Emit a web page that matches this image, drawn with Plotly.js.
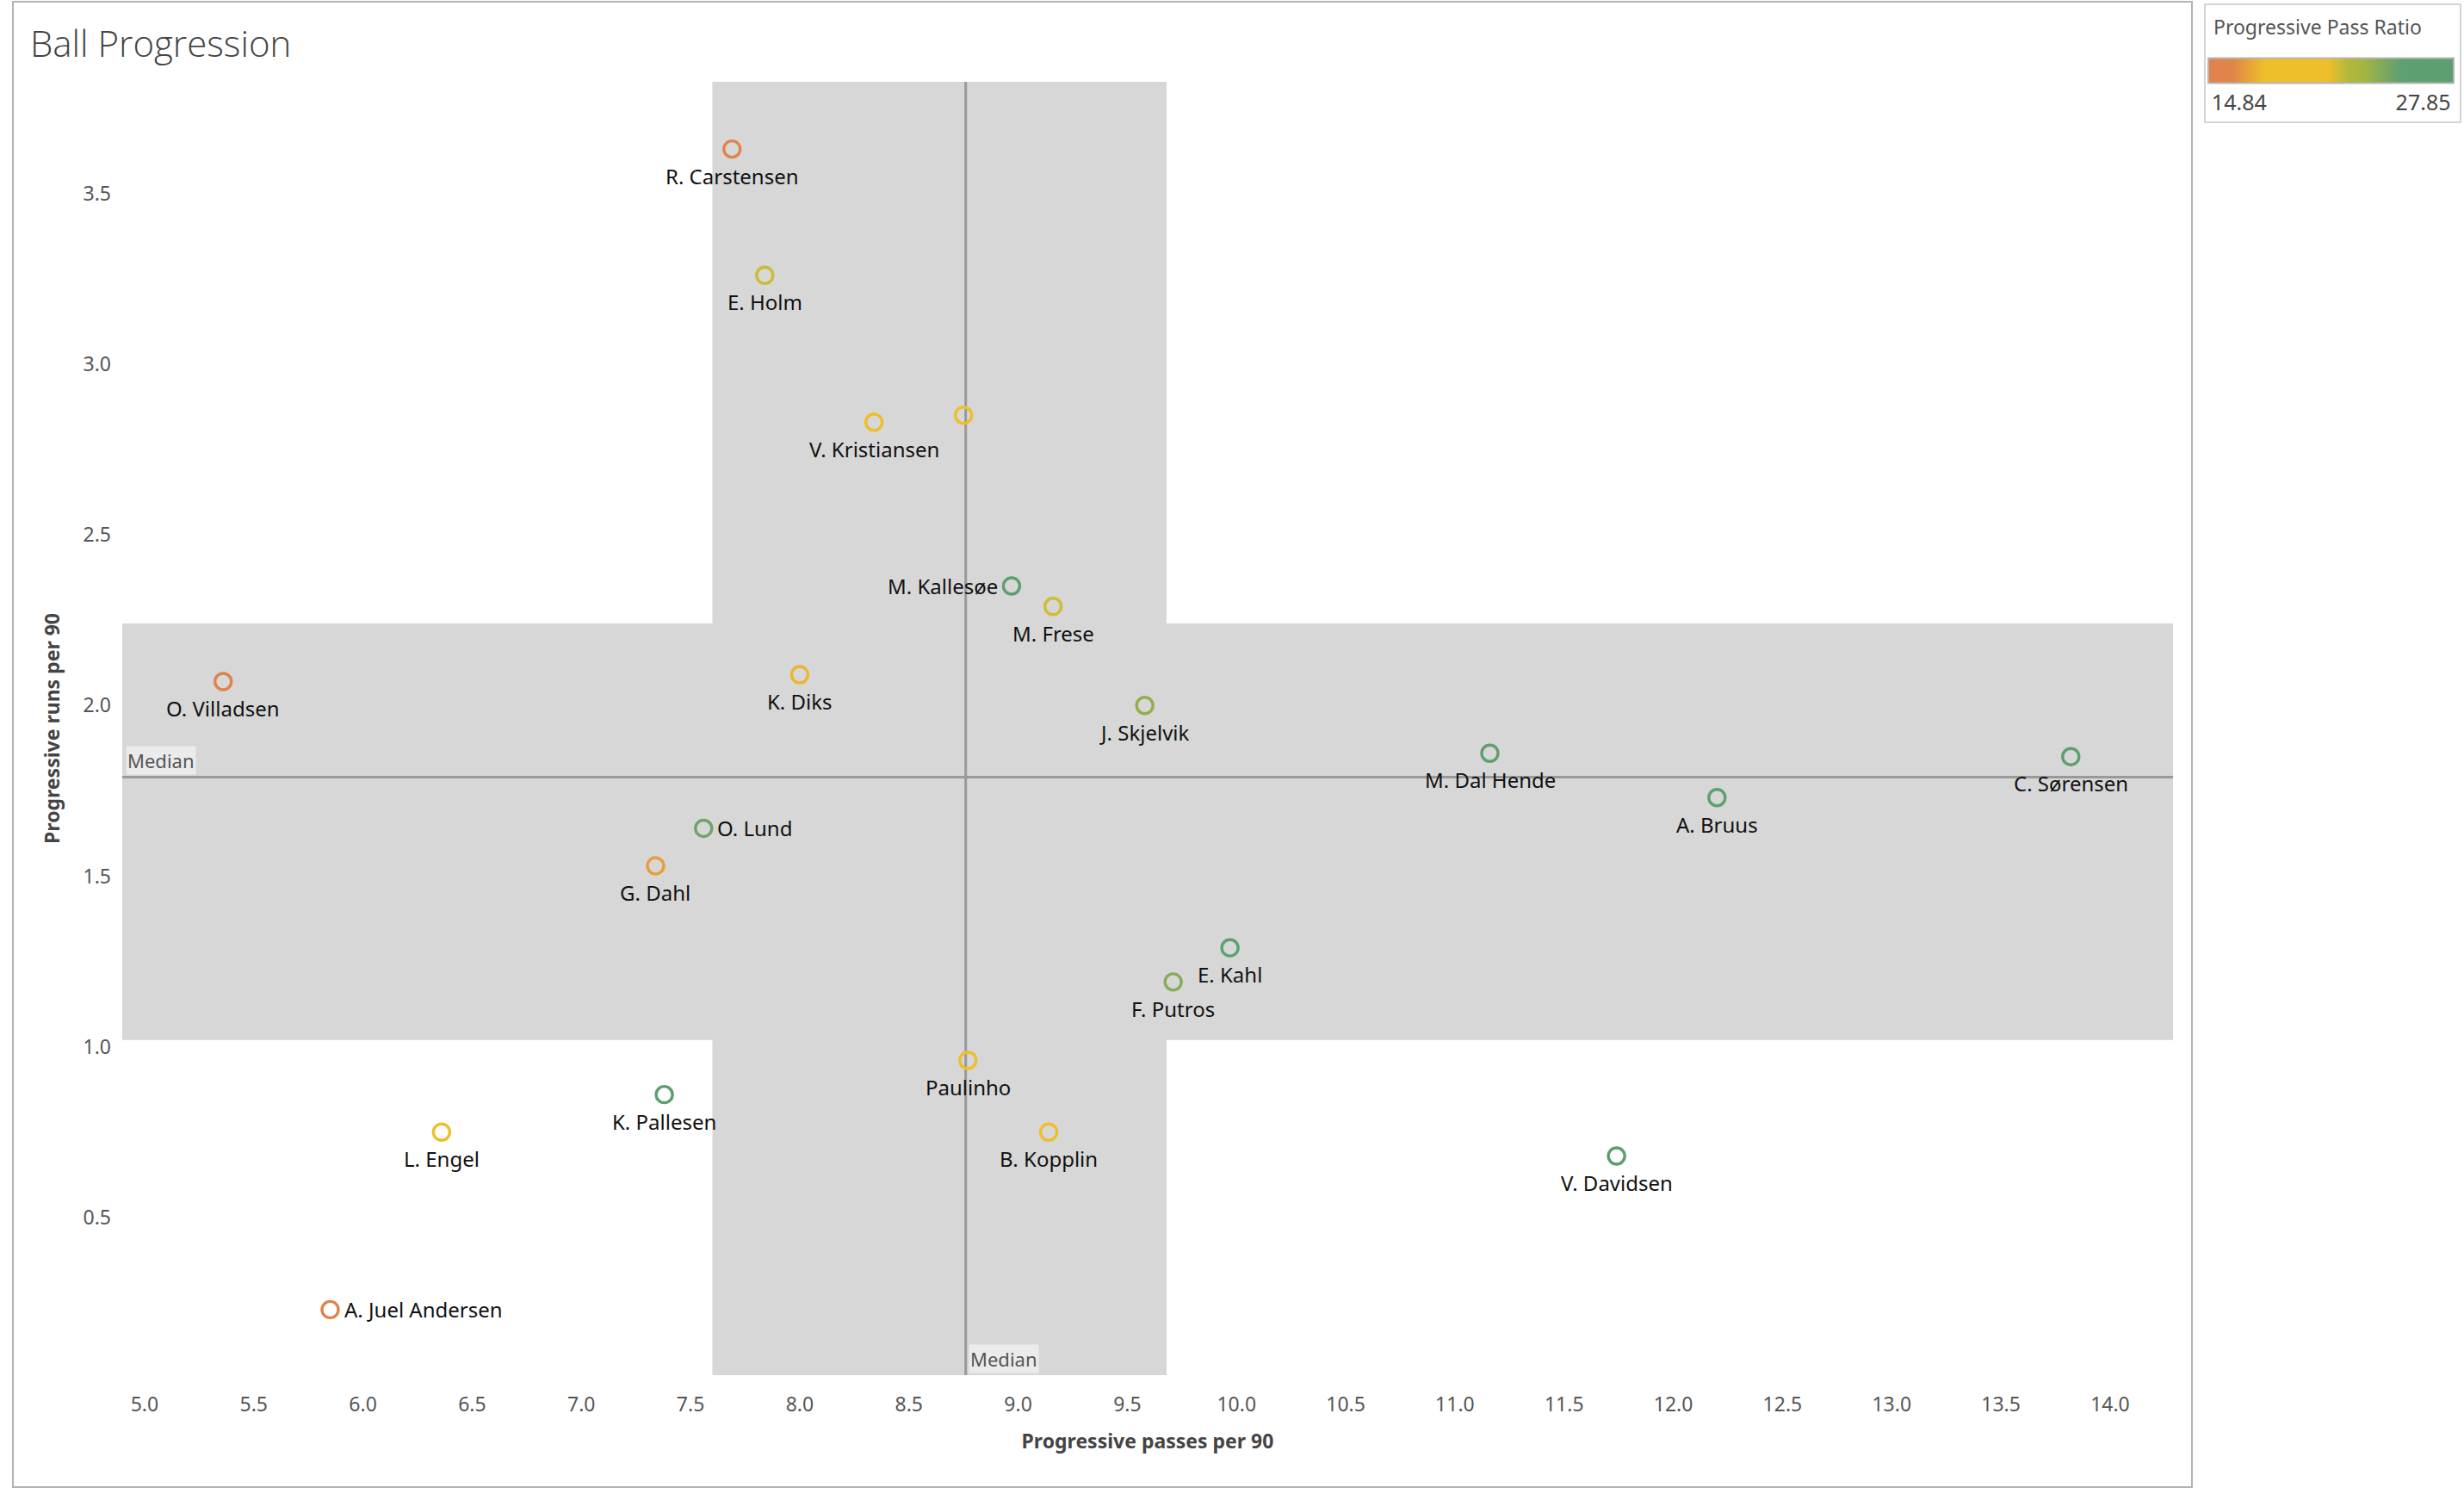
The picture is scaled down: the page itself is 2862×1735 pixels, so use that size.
<!DOCTYPE html>
<html>
<head>
<meta charset="utf-8">
<script src="https://cdn.plot.ly/plotly-3.0.1.min.js"></script>
<style>
  html, body { margin: 0; padding: 0; background: #fff; }
  #wrap { position: relative; width: 2862px; height: 1735px; }
  #chart { position: absolute; left: 0; top: 0; width: 2862px; height: 1735px; }
  .frame { position: absolute; pointer-events: none; box-sizing: border-box; }
</style>
</head>
<body>
<div id="wrap">
  <div id="chart"></div>
  <div class="frame" style="left:14px; top:1px; width:2533px; height:1727px; border:2px solid #b3b3b3;"></div>
  <div class="frame" style="left:2560px; top:4px; width:299px; height:139px; border:2px solid #d4d4d4;"></div>
</div>
<script>
// ---- data ----
const players = [
  'R. Carstensen', 'E. Holm', 'V. Kristiansen', '', 'M. Kallesøe', 'M. Frese',
  'O. Villadsen', 'K. Diks', 'J. Skjelvik', 'M. Dal Hende', 'C. Sørensen',
  'A. Bruus', 'O. Lund', 'G. Dahl', 'E. Kahl', 'F. Putros', 'Paulinho',
  'K. Pallesen', 'L. Engel', 'B. Kopplin', 'V. Davidsen', 'A. Juel Andersen'
];
const progPasses = [
  7.69, 7.84, 8.34, 8.75, 8.97, 9.16,
  5.36, 8.00, 9.58, 11.16, 13.82,
  12.20, 7.56, 7.34, 9.97, 9.71, 8.77,
  7.38, 6.36, 9.14, 11.74, 5.85
];
const progRuns = [
  3.63, 3.26, 2.83, 2.85, 2.35, 2.29,
  2.07, 2.09, 2.00, 1.86, 1.85,
  1.73, 1.64, 1.53, 1.29, 1.19, 0.96,
  0.86, 0.75, 0.75, 0.68, 0.23
];
const passRatio = [
  15.6, 21.8, 19.6, 20.0, 26.6, 21.7,
  15.1, 17.6, 23.6, 27.0, 26.8,
  26.2, 24.6, 16.9, 26.2, 23.9, 19.6,
  26.5, 18.2, 21.0, 27.85, 14.84
];
const ratioRange = [14.84, 27.85];
const medianX = 8.76;
const medianY = 1.79;
const bandX = [7.60, 9.68];   // shaded reference band on passes
const bandY = [1.02, 2.24];   // shaded reference band on runs
const xTickVals = [5.0, 5.5, 6.0, 6.5, 7.0, 7.5, 8.0, 8.5, 9.0, 9.5, 10.0, 10.5, 11.0, 11.5, 12.0, 12.5, 13.0, 13.5, 14.0];
const yTickVals = [0.5, 1.0, 1.5, 2.0, 2.5, 3.0, 3.5];

// label placement (style, not data)
const labelSide = [
  'below', 'below', 'below', 'none', 'left', 'below',
  'below', 'below', 'below', 'below', 'below',
  'below', 'right', 'below', 'below', 'below', 'below',
  'below', 'below', 'below', 'below', 'right'
];

const FONT = 'Noto Sans, Open Sans, sans-serif';
const colorscale = [
  [0.00, '#e0834a'], [0.10, '#e0854a'],
  [0.23, '#eebf2a'], [0.49, '#eebf2a'],
  [0.57, '#b3b83a'], [0.63, '#a6b542'],
  [0.78, '#5fa070'], [1.00, '#5d9f6e']
];

const span = ratioRange[1] - ratioRange[0];
const trace = {
  type: 'scatter',
  mode: 'markers',
  x: progPasses,
  y: progRuns,
  text: players,
  hoverinfo: 'text',
  marker: {
    symbol: 'circle-open',
    size: 19,
    line: { width: 3.4 },
    color: passRatio,
    cmin: ratioRange[0],
    cmax: ratioRange[1],
    colorscale: colorscale,
    showscale: true,
    colorbar: {
      orientation: 'h',
      x: (2712 - 142) / 2386,
      xanchor: 'center',
      y: (1597 - 100) / 1502,
      yanchor: 'middle',
      lenmode: 'pixels',
      len: 285,
      thickness: 29,
      outlinecolor: '#b5b5b5',
      outlinewidth: 2,
      ticks: '',
      tickvals: [ratioRange[0] + span * 0.125, ratioRange[1] - span * 0.125],
      ticktext: [ratioRange[0].toFixed(2), ratioRange[1].toFixed(2)],
      tickfont: { family: FONT, size: 25, color: '#444' },
      xpad: 0, ypad: 0
    }
  }
};

const annotations = [];
players.forEach((p, i) => {
  const side = labelSide[i];
  if (side === 'none' || !p) return;
  const a = {
    x: progPasses[i], y: progRuns[i], xref: 'x', yref: 'y',
    text: p, showarrow: false,
    font: { family: FONT, size: 24, color: '#111' }
  };
  if (side === 'below') { a.xanchor = 'center'; a.yanchor = 'middle'; a.yshift = -31; }
  else if (side === 'left') { a.xanchor = 'right'; a.yanchor = 'middle'; a.xshift = -14; }
  else if (side === 'right') { a.xanchor = 'left'; a.yanchor = 'middle'; a.xshift = 14; }
  annotations.push(a);
});
annotations.push({
  x: 0, y: medianY, xref: 'paper', yref: 'y', xanchor: 'left', yanchor: 'bottom',
  text: 'Median', showarrow: false, bgcolor: '#ebebeb', borderpad: 1, xshift: 4, yshift: 2,
  font: { family: FONT, size: 22, color: '#555' }
});
annotations.push({
  x: medianX, y: 0, xref: 'x', yref: 'paper', xanchor: 'left', yanchor: 'bottom',
  text: 'Median', showarrow: false, bgcolor: '#ebebeb', borderpad: 1, xshift: 3, yshift: 2,
  font: { family: FONT, size: 22, color: '#555' }
});
// colour legend title
annotations.push({
  x: (2573 - 142) / 2386, y: (1597 - 31) / 1502, xref: 'paper', yref: 'paper',
  xanchor: 'left', yanchor: 'middle', showarrow: false,
  text: 'Progressive Pass Ratio',
  font: { family: FONT, size: 23, color: '#555' }
});

const shapes = [
  { type: 'rect', layer: 'below', xref: 'x', yref: 'paper', x0: bandX[0], x1: bandX[1], y0: 0, y1: 1, fillcolor: '#d7d7d7', line: { width: 0 } },
  { type: 'rect', layer: 'below', xref: 'paper', yref: 'y', x0: 0, x1: 1, y0: bandY[0], y1: bandY[1], fillcolor: '#d7d7d7', line: { width: 0 } },
  { type: 'line', layer: 'below', xref: 'x', yref: 'paper', x0: medianX, x1: medianX, y0: 0, y1: 1, line: { color: '#999', width: 3 } },
  { type: 'line', layer: 'below', xref: 'paper', yref: 'y', x0: 0, x1: 1, y0: medianY, y1: medianY, line: { color: '#999', width: 3 } }
];

const layout = {
  width: 2862, height: 1735,
  margin: { l: 142, r: 334, t: 95, b: 138, pad: 0 },
  paper_bgcolor: 'rgba(0,0,0,0)',
  plot_bgcolor: 'rgba(0,0,0,0)',
  showlegend: false,
  title: {
    text: 'Ball Progression',
    xref: 'container', yref: 'container',
    x: 35 / 2862, xanchor: 'left',
    y: 1 - 51 / 1735, yanchor: 'middle',
    font: { family: 'Open Sans, Noto Sans, sans-serif', size: 42, color: '#444', weight: 300 }
  },
  xaxis: {
    range: [4.898, 14.288],
    tickvals: xTickVals,
    tickformat: '.1f',
    showgrid: false, zeroline: false, showline: false, ticks: '',
    ticklabelstandoff: 18,
    tickfont: { family: FONT, size: 23, color: '#555' },
    title: { text: 'Progressive passes per 90', standoff: 20, font: { family: FONT, size: 23, color: '#444', weight: 'bold' } },
    automargin: false
  },
  yaxis: {
    range: [0.038, 3.827],
    tickvals: yTickVals,
    tickformat: '.1f',
    showgrid: false, zeroline: false, showline: false, ticks: '',
    ticklabelstandoff: 12,
    tickfont: { family: FONT, size: 23, color: '#555' },
    title: { text: 'Progressive runs per 90', standoff: 20, font: { family: FONT, size: 23, color: '#444', weight: 'bold' } },
    automargin: false
  },
  shapes: shapes,
  annotations: annotations
};

Plotly.newPlot('chart', [trace], layout, { displayModeBar: false, staticPlot: true });
</script>
</body>
</html>
